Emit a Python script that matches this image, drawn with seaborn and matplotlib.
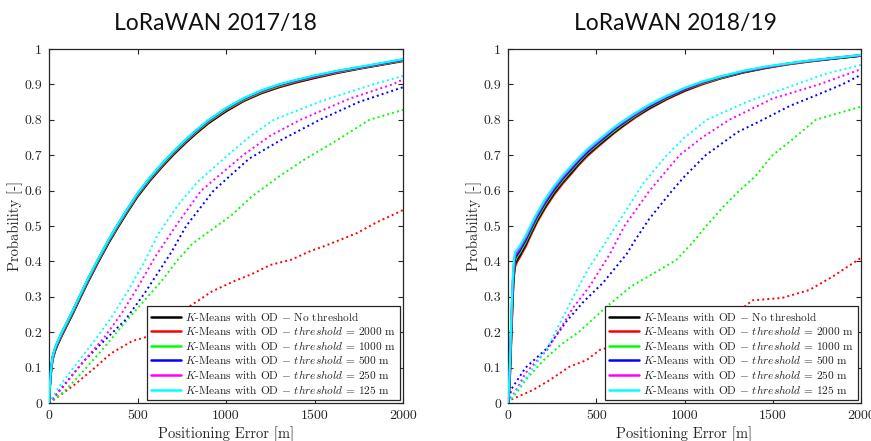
import matplotlib
matplotlib.use("Agg")
import matplotlib.pyplot as plt
import seaborn as sns
import pandas as pd

# ---------------- data ----------------
titles = ["LoRaWAN 2017/18", "LoRaWAN 2018/19"]
series_labels = [
    r"$K$-Means with OD $-$ No threshold",
    r"$K$-Means with OD $-$ $threshold$ = 2000 m",
    r"$K$-Means with OD $-$ $threshold$ = 1000 m",
    r"$K$-Means with OD $-$ $threshold$ = 500 m",
    r"$K$-Means with OD $-$ $threshold$ = 250 m",
    r"$K$-Means with OD $-$ $threshold$ = 125 m",
]
series_colors = ["#000000", "#ff0000", "#00ff00", "#0000ff", "#ff00ff", "#00ffff"]
x_ticks = [0, 500, 1000, 1500, 2000]
x_tick_labels = ["0", "500", "1000", "1500", "2000"]
y_ticks = [0, 0.1, 0.2, 0.3, 0.4, 0.5, 0.6, 0.7, 0.8, 0.9, 1.0]
y_tick_labels = ["0", "0.1", "0.2", "0.3", "0.4", "0.5", "0.6", "0.7", "0.8", "0.9", "1"]

# --- 2017/18 solid (K-Means with OD) ---
solid_L_x = [0, 5, 10, 20, 35, 50, 75, 100, 135, 170, 220, 280, 340, 390, 450, 500, 570, 640,
             700, 770, 830, 900, 1000, 1100, 1200, 1300, 1400, 1500, 1625, 1750, 1875, 2000]
solid_L_none = [0, 0.045, 0.080, 0.122, 0.148, 0.166, 0.193, 0.218, 0.253, 0.290, 0.342, 0.400,
                0.455, 0.497, 0.545, 0.583, 0.628, 0.668, 0.700, 0.734, 0.761, 0.790, 0.824,
                0.853, 0.875, 0.892, 0.906, 0.918, 0.932, 0.944, 0.955, 0.966]
solid_L_2000 = [0, 0.046, 0.082, 0.125, 0.151, 0.169, 0.196, 0.221, 0.256, 0.293, 0.345, 0.403,
                0.458, 0.500, 0.548, 0.586, 0.631, 0.671, 0.703, 0.737, 0.764, 0.793, 0.827,
                0.855, 0.877, 0.894, 0.908, 0.920, 0.933, 0.945, 0.956, 0.967]
solid_L_1000 = [0, 0.047, 0.083, 0.127, 0.153, 0.171, 0.198, 0.223, 0.258, 0.295, 0.347, 0.405,
                0.460, 0.502, 0.550, 0.588, 0.633, 0.673, 0.705, 0.739, 0.766, 0.795, 0.829,
                0.857, 0.879, 0.896, 0.910, 0.922, 0.935, 0.946, 0.957, 0.968]
solid_L_500 = [0, 0.049, 0.086, 0.130, 0.156, 0.174, 0.201, 0.226, 0.261, 0.298, 0.350, 0.408,
               0.463, 0.505, 0.553, 0.591, 0.636, 0.676, 0.708, 0.742, 0.769, 0.798, 0.832,
               0.860, 0.882, 0.899, 0.912, 0.924, 0.937, 0.948, 0.959, 0.970]
solid_L_250 = [0, 0.048, 0.085, 0.129, 0.155, 0.173, 0.200, 0.225, 0.260, 0.297, 0.349, 0.407,
               0.462, 0.504, 0.552, 0.590, 0.635, 0.675, 0.707, 0.741, 0.768, 0.797, 0.831,
               0.859, 0.881, 0.898, 0.911, 0.923, 0.936, 0.947, 0.958, 0.969]
solid_L_125 = [0, 0.050, 0.087, 0.131, 0.157, 0.175, 0.202, 0.227, 0.262, 0.299, 0.351, 0.409,
               0.464, 0.506, 0.554, 0.592, 0.637, 0.677, 0.709, 0.743, 0.770, 0.799, 0.833,
               0.861, 0.883, 0.900, 0.913, 0.925, 0.938, 0.949, 0.960, 0.971]

# --- 2017/18 dotted (plain threshold) ---
dot_L_2000_x = [0, 30, 140, 260, 350, 470, 540, 640, 770, 920, 1050, 1150, 1250, 1370, 1480, 1550, 1740, 1850, 2000]
dot_L_2000_y = [0, 0.01, 0.05, 0.10, 0.14, 0.175, 0.185, 0.215, 0.265, 0.315, 0.345, 0.365, 0.39, 0.405, 0.43, 0.442, 0.48, 0.51, 0.545]
dot_L_1000_x = [0, 80, 165, 300, 430, 540, 640, 720, 810, 920, 1030, 1150, 1300, 1450, 1620, 1810, 2000]
dot_L_1000_y = [0, 0.03, 0.074, 0.15, 0.228, 0.29, 0.347, 0.40, 0.45, 0.49, 0.53, 0.585, 0.64, 0.69, 0.74, 0.80, 0.828]
dot_L_500_x = [0, 100, 200, 300, 430, 540, 690, 775, 930, 1130, 1300, 1530, 1750, 2000]
dot_L_500_y = [0, 0.06, 0.12, 0.17, 0.234, 0.31, 0.425, 0.50, 0.60, 0.69, 0.74, 0.80, 0.85, 0.892]
dot_L_250_x = [0, 80, 165, 315, 410, 505, 600, 730, 860, 1096, 1250, 1420, 1700, 1940, 2000]
dot_L_250_y = [0, 0.045, 0.10, 0.187, 0.253, 0.33, 0.413, 0.51, 0.60, 0.70, 0.755, 0.80, 0.86, 0.90, 0.914]
dot_L_125_x = [0, 70, 165, 260, 355, 450, 540, 620, 730, 840, 1010, 1140, 1270, 1550, 1830, 2000]
dot_L_125_y = [0, 0.055, 0.117, 0.178, 0.244, 0.32, 0.40, 0.48, 0.56, 0.625, 0.70, 0.755, 0.80, 0.855, 0.90, 0.924]

# --- 2018/19 solid (K-Means with OD) ---
solid_R_x = [0, 5, 10, 15, 20, 25, 30, 35, 40, 50, 65, 80, 100, 130, 166, 210, 260, 310, 354,
             400, 450, 500, 540, 600, 650, 720, 800, 900, 1000, 1100, 1200, 1330, 1460, 1580,
             1700, 1850, 2000]
solid_R_2000 = [0, 0.02, 0.06, 0.13, 0.20, 0.27, 0.33, 0.365, 0.385, 0.398, 0.41, 0.424, 0.442,
                0.475, 0.512, 0.55, 0.588, 0.62, 0.645, 0.672, 0.698, 0.72, 0.737, 0.762, 0.781,
                0.806, 0.831, 0.858, 0.881, 0.900, 0.916, 0.933, 0.946, 0.956, 0.964, 0.973, 0.981]
solid_R_none = [0, 0.024, 0.068, 0.14, 0.212, 0.282, 0.34, 0.374, 0.393, 0.405, 0.416, 0.430,
                0.448, 0.481, 0.517, 0.555, 0.593, 0.625, 0.649, 0.676, 0.702, 0.724, 0.740,
                0.765, 0.784, 0.809, 0.833, 0.860, 0.883, 0.902, 0.917, 0.934, 0.947, 0.957,
                0.965, 0.973, 0.981]
solid_R_1000 = [0, 0.028, 0.076, 0.15, 0.224, 0.294, 0.35, 0.383, 0.401, 0.412, 0.423, 0.436,
                0.454, 0.486, 0.522, 0.56, 0.598, 0.629, 0.654, 0.680, 0.706, 0.727, 0.744,
                0.768, 0.787, 0.811, 0.836, 0.862, 0.885, 0.903, 0.918, 0.935, 0.948, 0.957,
                0.965, 0.974, 0.982]
solid_R_500 = [0, 0.032, 0.084, 0.16, 0.236, 0.306, 0.36, 0.392, 0.409, 0.418, 0.429, 0.443,
               0.46, 0.492, 0.528, 0.565, 0.602, 0.634, 0.658, 0.684, 0.709, 0.731, 0.747,
               0.772, 0.79, 0.814, 0.838, 0.864, 0.886, 0.905, 0.92, 0.936, 0.948, 0.958,
               0.966, 0.974, 0.982]
solid_R_250 = [0, 0.036, 0.092, 0.17, 0.248, 0.318, 0.37, 0.401, 0.417, 0.425, 0.436, 0.449,
               0.466, 0.497, 0.533, 0.57, 0.607, 0.638, 0.663, 0.688, 0.713, 0.734, 0.751,
               0.775, 0.793, 0.816, 0.841, 0.866, 0.888, 0.906, 0.921, 0.937, 0.949, 0.958,
               0.966, 0.975, 0.983]
solid_R_125 = [0, 0.04, 0.10, 0.18, 0.26, 0.33, 0.38, 0.41, 0.425, 0.432, 0.442, 0.455, 0.472,
               0.503, 0.538, 0.575, 0.612, 0.643, 0.667, 0.692, 0.717, 0.738, 0.754, 0.778,
               0.796, 0.819, 0.843, 0.868, 0.890, 0.908, 0.922, 0.938, 0.950, 0.959, 0.967,
               0.975, 0.983]

# --- 2018/19 dotted (plain threshold) ---
dot_R_2000_x = [0, 11, 143, 237, 350, 445, 520, 558, 700, 900, 1100, 1250, 1339, 1386, 1555, 1706, 1839, 2000]
dot_R_2000_y = [0, 0.008, 0.037, 0.065, 0.103, 0.121, 0.15, 0.155, 0.18, 0.21, 0.24, 0.26, 0.272, 0.29, 0.297, 0.319, 0.357, 0.41]
dot_R_1000_x = [0, 50, 100, 200, 300, 400, 558, 700, 859, 953, 1040, 1123, 1230, 1311, 1400, 1499, 1600, 1744, 1880, 2000]
dot_R_1000_y = [0, 0.03, 0.065, 0.12, 0.165, 0.20, 0.272, 0.33, 0.376, 0.404, 0.45, 0.50, 0.56, 0.60, 0.64, 0.70, 0.74, 0.80, 0.82, 0.837]
dot_R_500_x = [0, 20, 100, 222, 330, 426, 539, 671, 720, 800, 930, 1000, 1120, 1300, 1443, 1600, 1750, 1894, 2000]
dot_R_500_y = [0, 0.04, 0.10, 0.155, 0.23, 0.285, 0.34, 0.42, 0.46, 0.52, 0.60, 0.64, 0.70, 0.765, 0.80, 0.84, 0.87, 0.90, 0.927]
dot_R_250_x = [0, 50, 100, 222, 370, 463, 576, 660, 802, 972, 1100, 1254, 1500, 1763, 2000]
dot_R_250_y = [0, 0.04, 0.085, 0.15, 0.27, 0.33, 0.42, 0.50, 0.60, 0.70, 0.75, 0.80, 0.86, 0.90, 0.943]
dot_R_125_x = [0, 50, 100, 222, 370, 450, 560, 670, 765, 900, 1000, 1126, 1350, 1631, 1800, 2000]
dot_R_125_y = [0, 0.035, 0.07, 0.155, 0.30, 0.375, 0.46, 0.545, 0.62, 0.70, 0.75, 0.80, 0.85, 0.90, 0.93, 0.955]

panels = [
    dict(
        title=titles[0],
        solid_x=solid_L_x,
        solids=[solid_L_none, solid_L_2000, solid_L_1000, solid_L_500, solid_L_250, solid_L_125],
        dotted=[(dot_L_2000_x, dot_L_2000_y, 1), (dot_L_1000_x, dot_L_1000_y, 2),
                (dot_L_500_x, dot_L_500_y, 3), (dot_L_250_x, dot_L_250_y, 4),
                (dot_L_125_x, dot_L_125_y, 5)],
        rect=[49 / 871, 38 / 441, 354 / 871, 354 / 441],
        title_x=0.47,
        order=[0, 1, 2, 4, 3, 5],
    ),
    dict(
        title=titles[1],
        solid_x=solid_R_x,
        solids=[solid_R_none, solid_R_2000, solid_R_1000, solid_R_500, solid_R_250, solid_R_125],
        dotted=[(dot_R_2000_x, dot_R_2000_y, 1), (dot_R_1000_x, dot_R_1000_y, 2),
                (dot_R_500_x, dot_R_500_y, 3), (dot_R_250_x, dot_R_250_y, 4),
                (dot_R_125_x, dot_R_125_y, 5)],
        rect=[508 / 871, 38 / 441, 353 / 871, 354 / 441],
        title_x=0.473,
        order=[1, 0, 2, 3, 4, 5],
    ),
]

# ---------------- style ----------------
sns.set_style("ticks")
plt.rcParams["font.family"] = ["cmr10", "DejaVu Serif"]
plt.rcParams["mathtext.fontset"] = "cm"
plt.rcParams["axes.formatter.use_mathtext"] = True
axis_gray = "#262626"

fig = plt.figure(figsize=(8.71, 4.41), dpi=100)

for p in panels:
    ax = fig.add_axes(p["rect"])
    # dotted curves
    for xs, ys, ci in p["dotted"]:
        df = pd.DataFrame({"err": xs, "prob": ys})
        sns.lineplot(data=df, x="err", y="prob", ax=ax, color=series_colors[ci],
                     linewidth=1.4, linestyle=(0, (1, 1.6)), estimator=None,
                     sort=False, zorder=2)
    # solid curves
    handles = [None] * 6
    for si in p["order"]:
        df = pd.DataFrame({"err": p["solid_x"], "prob": p["solids"][si]})
        sns.lineplot(data=df, x="err", y="prob", ax=ax, color=series_colors[si],
                     linewidth=1.6, estimator=None, sort=False, zorder=3)
        handles[si] = ax.lines[-1]

    ax.set_xlim(0, 2000)
    ax.set_ylim(0, 1)
    ax.set_xticks(x_ticks)
    ax.set_xticklabels(x_tick_labels)
    ax.set_yticks(y_ticks)
    ax.set_yticklabels(y_tick_labels)
    ax.tick_params(direction="in", length=3.5, width=0.8, colors=axis_gray,
                   labelsize=10, top=True, right=True, pad=5)
    for s in ax.spines.values():
        s.set_visible(True)
        s.set_color(axis_gray)
        s.set_linewidth(0.9)
    ax.set_xlabel("Positioning Error [m]", fontsize=10.5, color=axis_gray, labelpad=3)
    ax.set_ylabel("Probability [-]", fontsize=10.5, color=axis_gray, labelpad=1)
    ax.set_title(p["title"], fontsize=16.5, family="Lato", x=p["title_x"], pad=14,
                 color="#111111")

    leg = ax.legend(handles, series_labels, loc="lower right", fontsize=8.2,
                    frameon=True, fancybox=False, framealpha=1, edgecolor=axis_gray,
                    handlelength=2.6, handletextpad=0.35, labelspacing=0.14,
                    borderpad=0.35, borderaxespad=0.3)
    leg.get_frame().set_linewidth(0.9)
    for line in leg.get_lines():
        line.set_linewidth(1.8)

fig.savefig("out.png", dpi=100)
